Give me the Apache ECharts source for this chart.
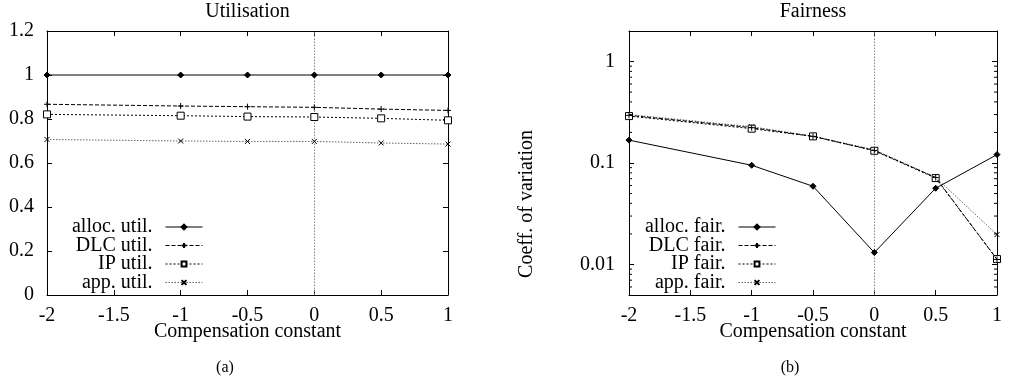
<!DOCTYPE html>
<html>
<head>
<meta charset="utf-8">
<script src="https://cdn.jsdelivr.net/npm/echarts@6/dist/echarts.min.js"></script>
<style>
html,body{margin:0;padding:0;background:#fff;}
#c{width:1013px;height:385px;}
</style>
</head>
<body>
<div id="c"></div>
<script>
// ---- data ----
var xs = [-2, -1, -0.5, 0, 0.5, 1];

var utilNames = ['alloc. util.', 'DLC util.', 'IP util.', 'app. util.'];
var allocUtil = [1.0, 1.0, 1.0, 1.0, 1.0, 1.0];
var dlcUtil   = [0.867, 0.859, 0.856, 0.853, 0.845, 0.839];
var ipUtil    = [0.821, 0.815, 0.811, 0.809, 0.803, 0.794];
var appUtil   = [0.707, 0.700, 0.698, 0.698, 0.691, 0.686];

var fairNames = ['alloc. fair.', 'DLC fair.', 'IP fair.', 'app. fair.'];
var allocFair = [0.168, 0.095, 0.059, 0.0131, 0.0564, 0.121];
var dlcFair   = [0.295, 0.223, 0.183, 0.133, 0.072, 0.0112];
var ipFair    = [0.290, 0.218, 0.183, 0.132, 0.071, 0.0113];
var appFair   = [0.300, 0.228, 0.184, 0.135, 0.072, 0.0197];

var logMinorTicks = [0.006, 0.007, 0.008, 0.009,
                     0.02, 0.03, 0.04, 0.05, 0.06, 0.07, 0.08, 0.09,
                     0.2, 0.3, 0.4, 0.5, 0.6, 0.7, 0.8, 0.9];
var logMajorLabels = [1, 0.1, 0.01];

var titles = ['Utilisation', 'Fairness'];
var xName = 'Compensation constant';
var yNameRight = 'Coeff. of variation';
var captions = ['(a)', '(b)'];

// ---- styling ----
var FONT = '"Liberation Serif", "Times New Roman", serif';
var FS = 20;
function pts(arr) { return xs.map(function (x, i) { return [x, arr[i]]; }); }

var styles = [
  { symbol: 'diamond', symbolSize: 6, lineType: 'solid', lineColor: '#000', fill: '#000' },
  { symbol: 'path://M0,5L10,5M5,0L5,10', symbolSize: 6, lineType: [4, 2], lineColor: '#000', fill: '#000' },
  { symbol: 'rect', symbolSize: 7, lineType: [2, 2], lineColor: '#000', fill: '#fff' },
  { symbol: 'path://M0,0L10,10M10,0L0,10', symbolSize: 5, lineType: [1.5, 1.5], lineColor: '#666', fill: '#000' }
];

function mkSeries(name, arr, idx, axisIdx, withZero) {
  var s = styles[idx];
  var o = {
    name: name, type: 'line', xAxisIndex: axisIdx, yAxisIndex: axisIdx,
    data: pts(arr), symbol: s.symbol, symbolSize: s.symbolSize, showAllSymbol: true,
    lineStyle: { color: s.lineColor, width: 1, type: s.lineType },
    itemStyle: { color: s.fill, borderColor: '#000', borderWidth: 1 },
    emphasis: { disabled: true }, animation: false, z: 5 - idx
  };
  if (withZero) {
    o.markLine = {
      silent: true, symbol: 'none', label: { show: false },
      lineStyle: { type: [1.5, 1.5], color: '#888', width: 1 },
      data: [{ xAxis: 0 }], z: 1
    };
  }
  return o;
}

var utilArrs = [allocUtil, dlcUtil, ipUtil, appUtil];
var fairArrs = [allocFair, dlcFair, ipFair, appFair];
var series = [];
utilNames.forEach(function (n, i) { series.push(mkSeries(n, utilArrs[i], i, 0, i === 0)); });
fairNames.forEach(function (n, i) { series.push(mkSeries(n, fairArrs[i], i, 1, i === 0)); });

// minor ticks on the log axis (left and right border)
series.push({
  type: 'custom', xAxisIndex: 1, yAxisIndex: 1, silent: true, animation: false, z: 10,
  data: logMinorTicks.map(function (v) { return [xs[0], v]; }),
  renderItem: function (params, api) {
    var v = api.value(1);
    var pL = api.coord([xs[0], v]);
    var pR = api.coord([xs[xs.length - 1], v]);
    return { type: 'group', children: [
      { type: 'line', shape: { x1: pL[0], y1: pL[1], x2: pL[0] + 3, y2: pL[1] }, style: { stroke: '#000', lineWidth: 1 } },
      { type: 'line', shape: { x1: pR[0] - 3, y1: pR[1], x2: pR[0], y2: pR[1] }, style: { stroke: '#000', lineWidth: 1 } }
    ] };
  }
});

var axisLine = { show: true, onZero: false, lineStyle: { color: '#000', width: 1 } };
var tick = { show: true, inside: true, length: 5, lineStyle: { color: '#000', width: 1 } };
var lab = { color: '#000', fontFamily: FONT, fontSize: FS };

function xAx(grid, pos, show) {
  return {
    type: 'value', gridIndex: grid, position: pos, min: -2, max: 1, interval: 0.5,
    axisLine: axisLine, axisTick: tick, splitLine: { show: false },
    axisLabel: show ? Object.assign({ margin: 11 }, lab) : { show: false }
  };
}
function logLabel(v) {
  for (var i = 0; i < logMajorLabels.length; i++) {
    if (Math.abs(v - logMajorLabels[i]) < logMajorLabels[i] * 1e-6) return String(logMajorLabels[i]);
  }
  return '';
}

var legendCommon = {
  orient: 'vertical', align: 'right', top: 217, padding: 0,
  itemWidth: 37, itemHeight: 6, itemGap: -1.5, selectedMode: false,
  lineStyle: { width: 1 },
  textStyle: { color: '#000', fontFamily: FONT, fontSize: FS, padding: [0, 8, 0, 0] }
};

var option = {
  backgroundColor: '#fff',
  animation: false,
  grid: [
    { left: 47, right: 565, top: 31, bottom: 90 },
    { left: 629, right: 16, top: 31, bottom: 90 }
  ],
  xAxis: [xAx(0, 'bottom', true), xAx(1, 'bottom', true), xAx(0, 'top', false), xAx(1, 'top', false)],
  yAxis: [
    { type: 'value', gridIndex: 0, min: 0, max: 1.2, interval: 0.2, position: 'left',
      axisLine: axisLine, axisTick: tick, splitLine: { show: false },
      axisLabel: Object.assign({ margin: 13 }, lab) },
    { type: 'log', logBase: 10, gridIndex: 1, min: 0.005, max: 2, position: 'left',
      axisLine: axisLine, axisTick: tick, splitLine: { show: false },
      axisLabel: Object.assign({ margin: 14, showMinLabel: false, showMaxLabel: false, formatter: logLabel }, lab) },
    { type: 'value', gridIndex: 0, min: 0, max: 1.2, interval: 0.2, position: 'right',
      axisLine: axisLine, axisTick: tick, splitLine: { show: false }, axisLabel: { show: false } },
    { type: 'log', logBase: 10, gridIndex: 1, min: 0.005, max: 2, position: 'right',
      axisLine: axisLine, axisTick: tick, splitLine: { show: false }, axisLabel: { show: false } }
  ],
  legend: [
    Object.assign({ data: utilNames, right: 810 }, legendCommon),
    Object.assign({ data: fairNames, right: 237 }, legendCommon)
  ],
  graphic: [
    { type: 'text', x: 247.5, y: 12, style: { text: titles[0], font: FS + 'px ' + FONT, fill: '#000', align: 'center', verticalAlign: 'middle' } },
    { type: 'text', x: 813, y: 12, style: { text: titles[1], font: FS + 'px ' + FONT, fill: '#000', align: 'center', verticalAlign: 'middle' } },
    { type: 'text', x: 247.5, y: 332, style: { text: xName, font: FS + 'px ' + FONT, fill: '#000', align: 'center', verticalAlign: 'middle' } },
    { type: 'text', x: 813, y: 332, style: { text: xName, font: FS + 'px ' + FONT, fill: '#000', align: 'center', verticalAlign: 'middle' } },
    { type: 'text', x: 527, y: 204, rotation: Math.PI / 2, style: { text: yNameRight, font: FS + 'px ' + FONT, fill: '#000', align: 'center', verticalAlign: 'middle' } },
    { type: 'text', x: 225, y: 368, style: { text: captions[0], font: '16px ' + FONT, fill: '#000', align: 'center', verticalAlign: 'middle' } },
    { type: 'text', x: 790, y: 368, style: { text: captions[1], font: '16px ' + FONT, fill: '#000', align: 'center', verticalAlign: 'middle' } }
  ],
  series: series
};

var chart = echarts.init(document.getElementById('c'), null, { renderer: 'canvas' });
chart.setOption(option);
</script>
</body>
</html>
